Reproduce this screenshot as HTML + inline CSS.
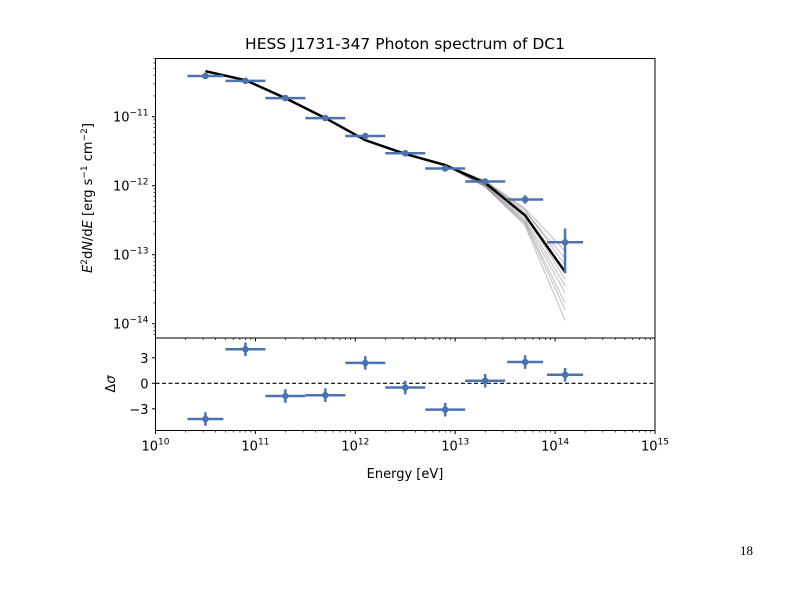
<!DOCTYPE html>
<html><head><meta charset="utf-8"><style>
body{margin:0;background:#fff;}
svg{display:block;font-family:"DejaVu Sans","Liberation Sans",sans-serif;}
</style></head><body>
<svg id="chart" width="794" height="595" viewBox="0 0 794 595">
<rect width="794" height="595" fill="#fff"/>
<text x="405" y="49" font-size="15.5" text-anchor="middle">HESS J1731-347 Photon spectrum of DC1</text>
<g id="topPanel"></g>
<g id="botPanel"></g>
<text x="405" y="478" font-size="13" text-anchor="middle">Energy [eV]</text>
<text transform="translate(92,198) rotate(-90)" font-size="13" text-anchor="middle"><tspan font-style="italic">E</tspan><tspan font-size="9" dy="-5">2</tspan><tspan dy="5">d</tspan><tspan font-style="italic">N</tspan>/d<tspan font-style="italic">E</tspan> [erg s<tspan font-size="9" dy="-5">−1</tspan><tspan dy="5"> cm</tspan><tspan font-size="9" dy="-5">−2</tspan><tspan dy="5">]</tspan></text>
<text transform="translate(115,384) rotate(-90)" font-size="13" text-anchor="middle">Δ<tspan font-style="italic">σ</tspan></text>
<text x="740" y="555" font-size="13" font-family="Liberation Serif,serif">18</text>
</svg>
<script>
const energyLog=[10.5,10.9,11.3,11.7,12.1,12.5,12.9,13.3,13.7,14.1];
const binHalfWidth=[0.18,0.2,0.2,0.2,0.2,0.2,0.2,0.2,0.18,0.18];
const fluxLog=[-10.41,-10.48,-10.73,-11.02,-11.28,-11.53,-11.75,-11.94,-12.2,-12.82];
const fluxErrLo=[0.02,0.02,0.02,0.02,0.02,0.02,0.03,0.04,0.06,0.45];
const fluxErrHi=[0.02,0.02,0.02,0.02,0.02,0.02,0.03,0.04,0.06,0.2];
const modelLog=[-10.34,-10.47,-10.73,-11.02,-11.34,-11.54,-11.70,-11.96,-12.43,-13.25];
const sampleEndOffsets=[[0,0.02,0.05,0.2],[0,-0.02,-0.05,-0.2],[0,0.03,0.1,0.3],[0,-0.04,-0.1,-0.45],[0,-0.05,-0.15,-0.7],[0,0.01,0.0,-0.1],[0,-0.03,-0.08,-0.3],[0,0.02,0.08,0.1],[0,-0.06,-0.12,-0.55]];
const residuals=[-4.2,4.0,-1.5,-1.4,2.4,-0.5,-3.1,0.3,2.5,1.0];
const residErr=[0.8,0.8,0.8,0.8,0.8,0.8,0.8,0.8,0.8,0.8];
const yTicksTop=[-11,-12,-13,-14];
const yTicksBot=[3,0,-3];
const xTicks=[10,11,12,13,14,15];

const NS="http://www.w3.org/2000/svg";
const L=155.5,R=655,T=58.5,M=338,B=430.5;
const X=v=>L+(v-10)*(R-L)/5;
const YT=v=>116.7+(-11-v)*69;
const YB=v=>383.3-v*8.5;
function mk(p,tag,a){const e=document.createElementNS(NS,tag);for(const k in a)e.setAttribute(k,a[k]);p.appendChild(e);return e;}
const topG=document.getElementById('topPanel'),botG=document.getElementById('botPanel');
const C="#4c72b0";

for(let s=0;s<sampleEndOffsets.length;s++){
  const off=sampleEndOffsets[s];
  const pts=modelLog.map((m,i)=>{const o=i>=6?off[i-6]:0;return X(energyLog[i])+','+YT(m+o);}).join(' ');
  const e=mk(topG,'polyline',{points:pts,fill:'none',stroke:'#000','stroke-opacity':0.2,'stroke-width':1.3});
  
  
}
const ml=mk(topG,'polyline',{points:modelLog.map((m,i)=>X(energyLog[i])+','+YT(m)).join(' '),fill:'none',stroke:'#000','stroke-width':2.5});



energyLog.forEach((e,i)=>{
  const g=mk(topG,'g',{});
  
  
  const x=X(e),y=YT(fluxLog[i]);
  mk(g,'line',{x1:X(e-binHalfWidth[i]),x2:X(e+binHalfWidth[i]),y1:y,y2:y,stroke:C,'stroke-width':2.5});
  mk(g,'line',{x1:x,x2:x,y1:YT(fluxLog[i]-fluxErrLo[i]),y2:YT(fluxLog[i]+fluxErrHi[i]),stroke:C,'stroke-width':2.5});
  mk(g,'circle',{cx:x,cy:y,r:3.3,fill:C});
});

mk(botG,'line',{x1:L,x2:R,y1:YB(0),y2:YB(0),stroke:'#000','stroke-width':1.2,'stroke-dasharray':'4,2.5'});
energyLog.forEach((e,i)=>{
  const g=mk(botG,'g',{});
  
  
  const x=X(e),y=YB(residuals[i]);
  mk(g,'line',{x1:X(e-binHalfWidth[i]),x2:X(e+binHalfWidth[i]),y1:y,y2:y,stroke:C,'stroke-width':2.5});
  mk(g,'line',{x1:x,x2:x,y1:YB(residuals[i]-residErr[i]),y2:YB(residuals[i]+residErr[i]),stroke:C,'stroke-width':2.5});
  mk(g,'circle',{cx:x,cy:y,r:3.3,fill:C});
});

mk(topG,'rect',{x:L,y:T,width:R-L,height:M-T,fill:'none',stroke:'#000','stroke-width':1});
mk(botG,'rect',{x:L,y:M,width:R-L,height:B-M,fill:'none',stroke:'#000','stroke-width':1});

yTicksTop.forEach(t=>{
  const y=YT(t);
  mk(topG,'line',{x1:L-3.5,x2:L,y1:y,y2:y,stroke:'#000'});
  const tx=mk(topG,'text',{x:L-7,y:y+5,'font-size':13,'text-anchor':'end'});
  tx.innerHTML='10<tspan font-size="9" dy="-6">−'+(-t)+'</tspan>';
  
  
});
for(let d=-15;d<=-10;d++)for(let k=2;k<10;k++){const v=d+Math.log10(k);if(v>-14.19&&v<-10.15){const y=YT(v);mk(topG,'line',{x1:L-2,x2:L,y1:y,y2:y,stroke:'#000','stroke-width':0.7});}}

yTicksBot.forEach(t=>{
  const y=YB(t);
  mk(botG,'line',{x1:L-3.5,x2:L,y1:y,y2:y,stroke:'#000'});
  const tx=mk(botG,'text',{x:L-7,y:y+5,'font-size':13,'text-anchor':'end'});
  tx.textContent=t<0?'−'+(-t):String(t);
  
  
});

xTicks.forEach(t=>{
  const x=X(t);
  [M,B].forEach(yb=>mk(botG,'line',{x1:x,x2:x,y1:yb,y2:yb+3.5,stroke:'#000'}));
  const tx=mk(botG,'text',{x:x,y:B+20,'font-size':13,'text-anchor':'middle'});
  tx.innerHTML='10<tspan font-size="9" dy="-6">'+t+'</tspan>';
  
  
});
for(let d=10;d<15;d++)for(let k=2;k<10;k++){const x=X(d+Math.log10(k));[M,B].forEach(yb=>mk(botG,'line',{x1:x,x2:x,y1:yb,y2:yb+2,stroke:'#000','stroke-width':0.7}));}
</script>
</body></html>
